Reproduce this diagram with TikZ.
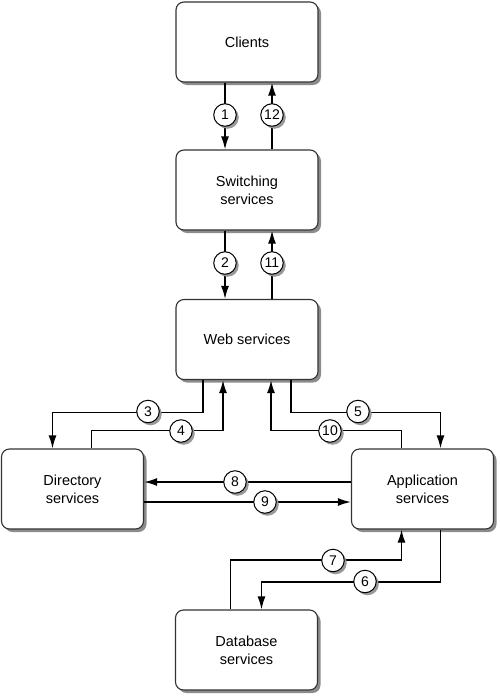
\documentclass[tikz,border=0pt]{standalone}
\usepackage{fontspec}
\setmainfont{Liberation Sans}
\usetikzlibrary{shadows,arrows.meta,calc}
\begin{document}
\begin{tikzpicture}[x=1pt,y=-1pt,
  svc/.style={draw=black!80, line width=1.1pt, rounded corners=8pt, fill=white,
    minimum width=142pt, minimum height=80pt, align=center,
    font=\fontsize{14.5}{17.7}\selectfont,
    drop shadow={shadow xshift=3pt, shadow yshift=-3pt, fill=black!45, opacity=1}},
  num/.style={circle, draw=black, line width=1pt, fill=white, minimum size=22.5pt, inner sep=0pt,
    font=\fontsize{14}{14}\selectfont,
    drop shadow={shadow xshift=2.5pt, shadow yshift=-2.5pt, fill=black!40, opacity=1}},
  arr/.style={line width=1.6pt, -{Latex[length=13pt,width=8pt]}}]
\useasboundingbox (0,0) rectangle (500,696);
\node[svc] (cli) at (247,42) {Clients};
\node[svc] (sw) at (247,190) {Switching\\services};
\node[svc] (web) at (247,339.5) {Web services};
\node[svc] (dir) at (72.5,489) {Directory\\services};
\node[svc] (app) at (422.5,489) {Application\\services};
\node[svc] (db) at (246.5,650) {Database\\services};
% vertical arrows
\draw[arr] ([xshift=-22]cli.south) -- ([xshift=-22]sw.north);
\draw[arr] ([xshift=25]sw.north) -- ([xshift=25]cli.south);
\draw[arr] ([xshift=-22]sw.south) -- ([xshift=-22]web.north);
\draw[arr] ([xshift=25]web.north) -- ([xshift=25]sw.south);
% web <-> directory
\draw[arr] ([xshift=-44]web.south) -- ++(0,32.5) -| ([xshift=-20]dir.north);
\draw[arr] ([xshift=19]dir.north) -- ++(0,-18) -| ([xshift=-24]web.south);
% web <-> application
\draw[arr] ([xshift=44]web.south) -- ++(0,32.5) -| ([xshift=18]app.north);
\draw[arr] ([xshift=-21]app.north) -- ++(0,-18) -| ([xshift=24]web.south);
% directory <-> application
\draw[arr] ([yshift=7]app.west) -- ([yshift=7]dir.east);
\draw[arr] ([yshift=-13]dir.east) -- ([yshift=-13]app.west);
% application <-> database
\draw[arr] ([xshift=18]app.south) -- ++(0,52.5) -| ([xshift=15]db.north);
\draw[arr] ([xshift=-16]db.north) -- ++(0,-49.5) -| ([xshift=-21]app.south);
% numbers
\node[num] (n1) at (225,115) {1};
\node[num] (n12) at (272,115) {12};
\node[num] (n2) at (225,263) {2};
\node[num] (n11) at (272,263) {11};
\node[num] (n3) at (148,411.5) {3};
\node[num] (n4) at (181,431) {4};
\node[num] (n5) at (358,411.5) {5};
\node[num] (n10) at (330,431) {10};
\node[num] (n8) at (235,482) {8};
\node[num] (n9) at (265,502) {9};
\node[num] (n7) at (333,560.5) {7};
\node[num] (n6) at (365,581.5) {6};
\end{tikzpicture}
\end{document}
